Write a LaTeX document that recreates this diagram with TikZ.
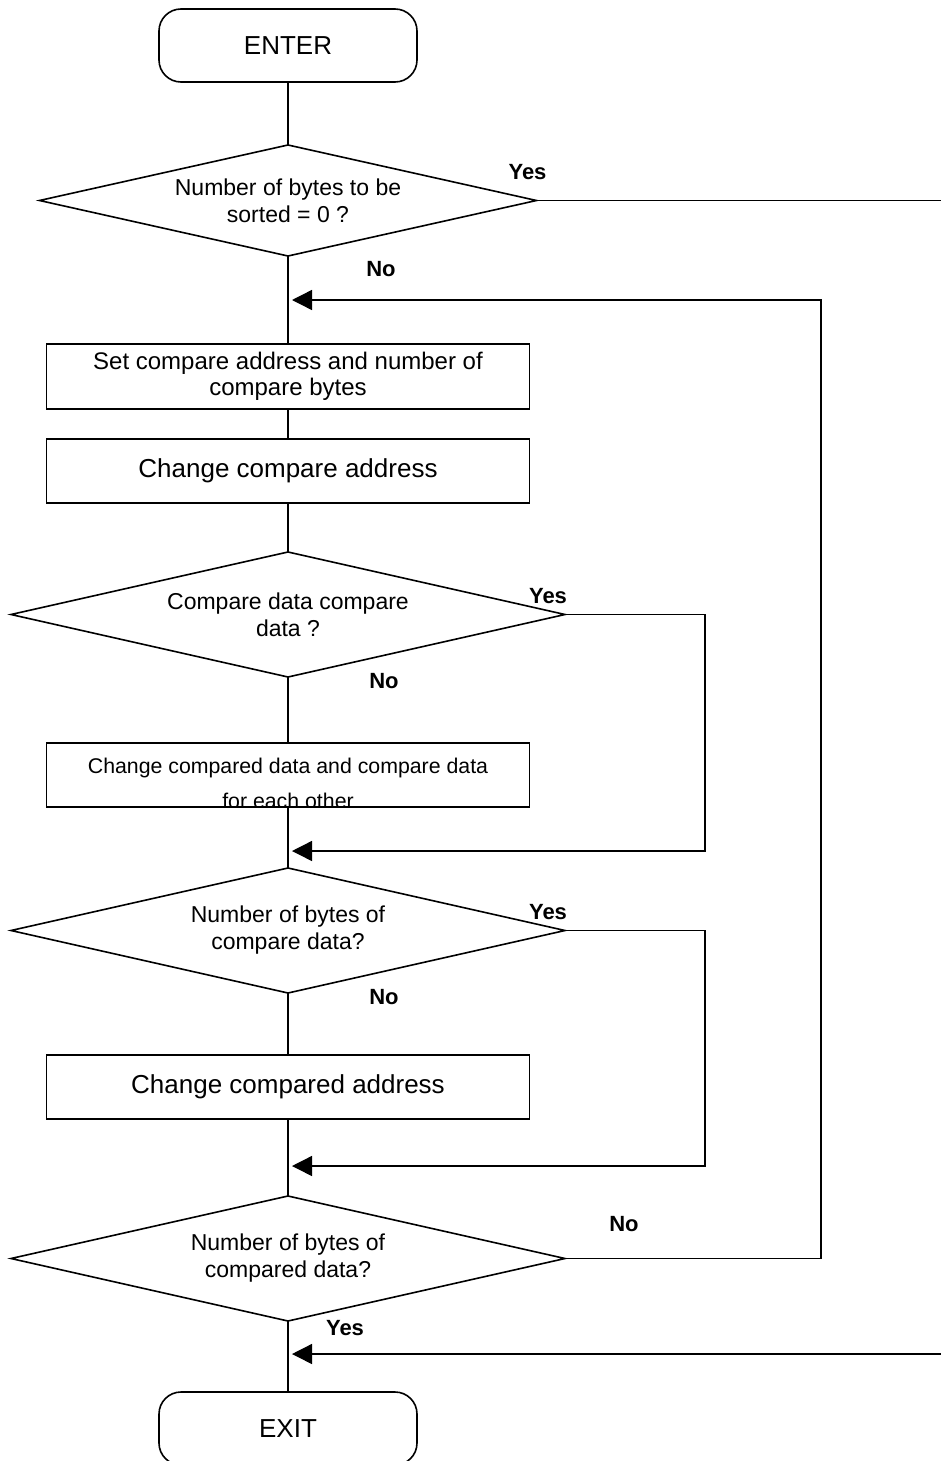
\documentclass[tikz,border=0pt]{standalone}
\usepackage{fontspec}
\setmainfont{Liberation Sans}
\usetikzlibrary{arrows.meta,
							calc,
							positioning,
							shapes.geometric}

\begin{document}
\begin{tikzpicture}[
	node distance = 40pt,
		base/.style = {draw, line width=1.6pt, outer sep=0pt, align=center},
terminal/.style = {base, rectangle, rounded corners=22pt,
									 minimum width=258pt, minimum height=73pt,
									 font=\fontsize{26}{30}\selectfont},
 process/.style = {base, rectangle, inner sep=2pt,
									 minimum width=483pt, minimum height=64pt},
decision/.style = {base, diamond, aspect=4.4, inner sep=0pt,
									 minimum width=554pt, minimum height=125pt,
									 font=\fontsize{23}{27}\selectfont},
		 ans/.style = {font=\bfseries\fontsize{22}{26}\selectfont},
		conn/.style = {line width=1.4pt},
joinarrow/.style = {conn, -{Triangle[length=20pt,width=20pt]}, shorten >=4pt}]

\useasboundingbox (0,0) rectangle (941pt,-1461pt);
\clip (0,0) rectangle (941pt,-1461pt);

\node [terminal] (enter) at (288pt,-45.5pt) {ENTER};
\node [decision, minimum width=497pt, minimum height=111pt,
			 below=63pt of enter] (dec1) {Number of bytes to be\\sorted = 0 ?};
\node [process, minimum height=65pt, font=\fontsize{24}{26}\selectfont,
			 below=88pt of dec1] (set) {Set compare address and number of\\compare bytes};
\node [process, font=\fontsize{26}{30}\selectfont,
			 below=30pt of set] (chgaddr) {Change compare address};
\node [decision, below=49pt of chgaddr] (dec2) {Compare data compare\\data ?};
\node [process, below=66pt of dec2] (swap) {};                      % <-- text cut by the box
\node [decision, below=61pt of swap] (dec3) {Number of bytes of\\compare data?};
\node [process, font=\fontsize{26}{30}\selectfont,
			 below=62pt of dec3] (chgcmp) {Change compared address};
\node [decision, below=77pt of chgcmp] (dec4) {Number of bytes of\\compared data?};
\node [terminal, below=71pt of dec4] (exit) {EXIT};

\begin{scope}
\clip ([yshift=1.5pt]swap.south west) rectangle (swap.north east);
\node [anchor=base, font=\fontsize{21.3}{25}\selectfont]
			(swaptxt) at ($(swap.north)+(0,-30pt)$) {Change compared data and compare data};
\node [anchor=base, font=\fontsize{21.3}{25}\selectfont]
			(swaptxtb) at ($(swap.north)+(0,-65pt)$) {for each other};
\end{scope}

% joins and bends
\coordinate [below=44pt of dec1] (loop);
\coordinate [right=533pt of loop] (back);
\coordinate [below=44pt of swap] (join2);
\coordinate [right=417pt of join2] (skip2);
\coordinate [below=47pt of chgcmp] (join3);
\coordinate [right=417pt of join3] (skip3);
\coordinate [below=33pt of dec4] (join4);
\coordinate [right=680pt of join4] (offpageb);
\coordinate [right=420pt of dec1.east] (offpagea);

%%
\draw [conn] (enter) -- (dec1);
\draw [conn] (dec1) -- (set);
\draw [conn] (set) -- (chgaddr);
\draw [conn] (chgaddr) -- (dec2);
\draw [conn] (dec2) -- (swap);
\draw [conn] (swap) -- (dec3);
\draw [conn] (dec3) -- (chgcmp);
\draw [conn] (chgcmp) -- (dec4);
\draw [conn] (dec4) -- (exit);
\draw [conn] (dec1.east) -- (offpagea);
\draw [joinarrow] (dec2.east) -| (skip2) -- (join2);
\draw [joinarrow] (dec3.east) -| (skip3) -- (join3);
\draw [joinarrow] (dec4.east) -| (back) -- (loop);
\draw [joinarrow] (offpageb) -- (join4);

\node [ans] (yes1) at ($(dec1.east)+(-9pt,28.5pt)$) {Yes};
\node [ans] (no1)  at ($(dec1.south)+(93pt,-13pt)$) {No};
\node [ans] (yes2) at ($(dec2.east)+(-17pt,18pt)$) {Yes};
\node [ans] (no2)  at ($(dec2.south)+(96pt,-4pt)$) {No};
\node [ans] (yes3) at ($(dec3.east)+(-17pt,18.5pt)$) {Yes};
\node [ans] (no3)  at ($(dec3.south)+(96pt,-4pt)$) {No};
\node [ans] (no4)  at ($(dec4.east)+(59pt,34.5pt)$) {No};
\node [ans] (yes4) at ($(dec4.south)+(57pt,-7pt)$) {Yes};
\end{tikzpicture}
\end{document}
